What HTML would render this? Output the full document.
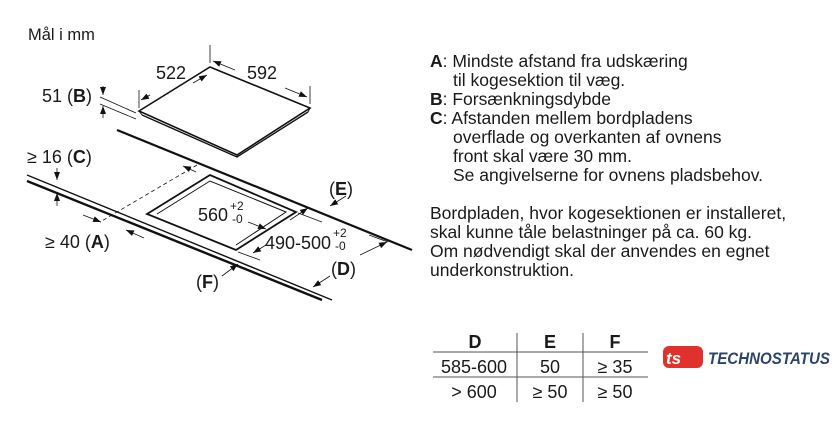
<!DOCTYPE html>
<html><head><meta charset="utf-8"><style>
body{margin:0;background:#fff;width:840px;height:440px;overflow:hidden}
svg{position:absolute;left:0;top:0}
text{font-family:"Liberation Sans",Arial,sans-serif;fill:#1a1a1a}
</style></head><body>
<svg width="840" height="440" viewBox="0 0 840 440">
<defs><marker id="a" markerWidth="8" markerHeight="6" refX="8" refY="3" orient="auto" markerUnits="userSpaceOnUse"><path d="M0,0 L8,3 L0,6z" fill="#111"/></marker></defs>
<g stroke="#111" fill="none">
<path d="M139,111 L210,67 L310,108 L237,155 Z" stroke-width="1.6" fill="#fff"/>
<path d="M142,115 L237,157 L308,112" stroke-width="1.4"/>
<path d="M139,111 L142,115 M237,155 L237,157 M310,108 L308,112" stroke-width="1"/>
<path d="M139,108 L139,90 M210,63 L210,45 M310,104 L310,86" stroke-width=".8"/>
<path d="M150,95 L141,100" stroke-width=".8" marker-end="url(#a)"/>
<path d="M193,83 L207,75" stroke-width=".8" marker-end="url(#a)"/>
<path d="M235,70 L213,61" stroke-width=".8" marker-end="url(#a)"/>
<path d="M285,88 L307,97" stroke-width=".8" marker-end="url(#a)"/>
<path d="M100,97 L136,113 M100,104 L136,119" stroke-width=".8"/>
<path d="M103,86 L103,95" stroke-width=".8" marker-end="url(#a)"/>
<path d="M103,118 L103,106" stroke-width=".8" marker-end="url(#a)"/>
<path d="M117,130 L412,250" stroke-width="2.2"/>
<path d="M27,175 L332,300" stroke-width="1.4"/>
<path d="M27,181 L322,300" stroke-width="2.4"/>
<path d="M197,165 L100,222" stroke-width=".8" stroke-dasharray="4,3"/>
<path d="M147,214 L210,175 L296,212 L236,250 Z" stroke-width="1.8"/>
<path d="M157,214 L210,181 L286,212 L236,245" stroke-width="1"/>
<path d="M57,168 L57,180" stroke-width=".8" marker-end="url(#a)"/>
<path d="M57,206 L57,193" stroke-width=".8" marker-end="url(#a)"/>
<path d="M83,215 L101,222" stroke-width=".8" marker-end="url(#a)"/>
<path d="M144,238 L126,230" stroke-width=".8" marker-end="url(#a)"/>
<path d="M196,172 L183,166" stroke-width=".8" marker-end="url(#a)"/>
<path d="M248,222 L266,229" stroke-width=".8" marker-end="url(#a)"/>
<path d="M298,213 L322,222 M238,252 L260,260" stroke-width=".8"/>
<path d="M290,220 L308,208" stroke-width=".8" marker-end="url(#a)"/>
<path d="M266,245 L253,253" stroke-width=".8" marker-end="url(#a)"/>
<path d="M346,196 L330,206" stroke-width=".8" marker-end="url(#a)"/>
<path d="M222,276 L238,264" stroke-width=".8" marker-end="url(#a)"/>
<path d="M369,235 L388,242" stroke-width=".8"/>
<path d="M360,255 L387,242" stroke-width=".8" marker-end="url(#a)"/>
<path d="M330,276 L313,287" stroke-width=".8" marker-end="url(#a)"/>
</g>
<g font-size="18">
<text x="28" y="40" font-size="16.5">Mål i mm</text>
<text x="156" y="79">522</text>
<text x="247" y="79">592</text>
<text x="42" y="102">51 (<tspan font-weight="bold">B</tspan>)</text>
<text x="27" y="163">≥ 16 (<tspan font-weight="bold">C</tspan>)</text>
<text x="45" y="248">≥ 40 (<tspan font-weight="bold">A</tspan>)</text>
<text x="198" y="221">560</text><text x="230" y="210" font-size="12">+2</text><text x="232" y="223" font-size="12">-0</text>
<text x="265" y="249">490-500</text><text x="333" y="237" font-size="12">+2</text><text x="335" y="250" font-size="12">-0</text>
<text x="329" y="195">(<tspan font-weight="bold">E</tspan>)</text>
<text x="196" y="288">(<tspan font-weight="bold">F</tspan>)</text>
<text x="331" y="275">(<tspan font-weight="bold">D</tspan>)</text>
</g>
<g font-size="17.5">
<text x="430" y="67"><tspan font-weight="bold">A</tspan>: Mindste afstand fra udskæring</text>
<text x="453" y="86">til kogesektion til væg.</text>
<text x="430" y="105"><tspan font-weight="bold">B</tspan>: Forsænkningsdybde</text>
<text x="430" y="124"><tspan font-weight="bold">C</tspan>: Afstanden mellem bordpladens</text>
<text x="453" y="143">overflade og overkanten af ovnens</text>
<text x="453" y="162">front skal være 30 mm.</text>
<text x="453" y="181">Se angivelserne for ovnens pladsbehov.</text>
<text x="430" y="219">Bordpladen, hvor kogesektionen er installeret,</text>
<text x="430" y="238">skal kunne tåle belastninger på ca. 60 kg.</text>
<text x="430" y="257">Om nødvendigt skal der anvendes en egnet</text>
<text x="430" y="276">underkonstruktion.</text>
</g>
<g stroke="#555" stroke-width="1">
<path d="M433,352 L648,352 M433,377 L648,377 M517,333 L517,402 M583,333 L583,402"/>
</g>
<g font-size="18" text-anchor="middle">
<text x="475" y="348" font-weight="bold">D</text><text x="550" y="348" font-weight="bold">E</text><text x="615" y="348" font-weight="bold">F</text>
<text x="474" y="373">585-600</text><text x="550" y="373">50</text><text x="615" y="373">≥ 35</text>
<text x="474" y="398">&gt; 600</text><text x="550" y="398">≥ 50</text><text x="615" y="398">≥ 50</text>
</g>
<rect x="663" y="346" width="40" height="22" rx="6" fill="#e0312c"/>
<text x="666" y="364" font-size="17" font-weight="bold" font-style="italic" style="fill:#fff">ts</text>
<text x="708" y="364" font-size="17" font-weight="bold" font-style="italic" style="fill:#2d4469" textLength="122" lengthAdjust="spacingAndGlyphs">TECHNOSTATUS</text>
</svg>
</body></html>
